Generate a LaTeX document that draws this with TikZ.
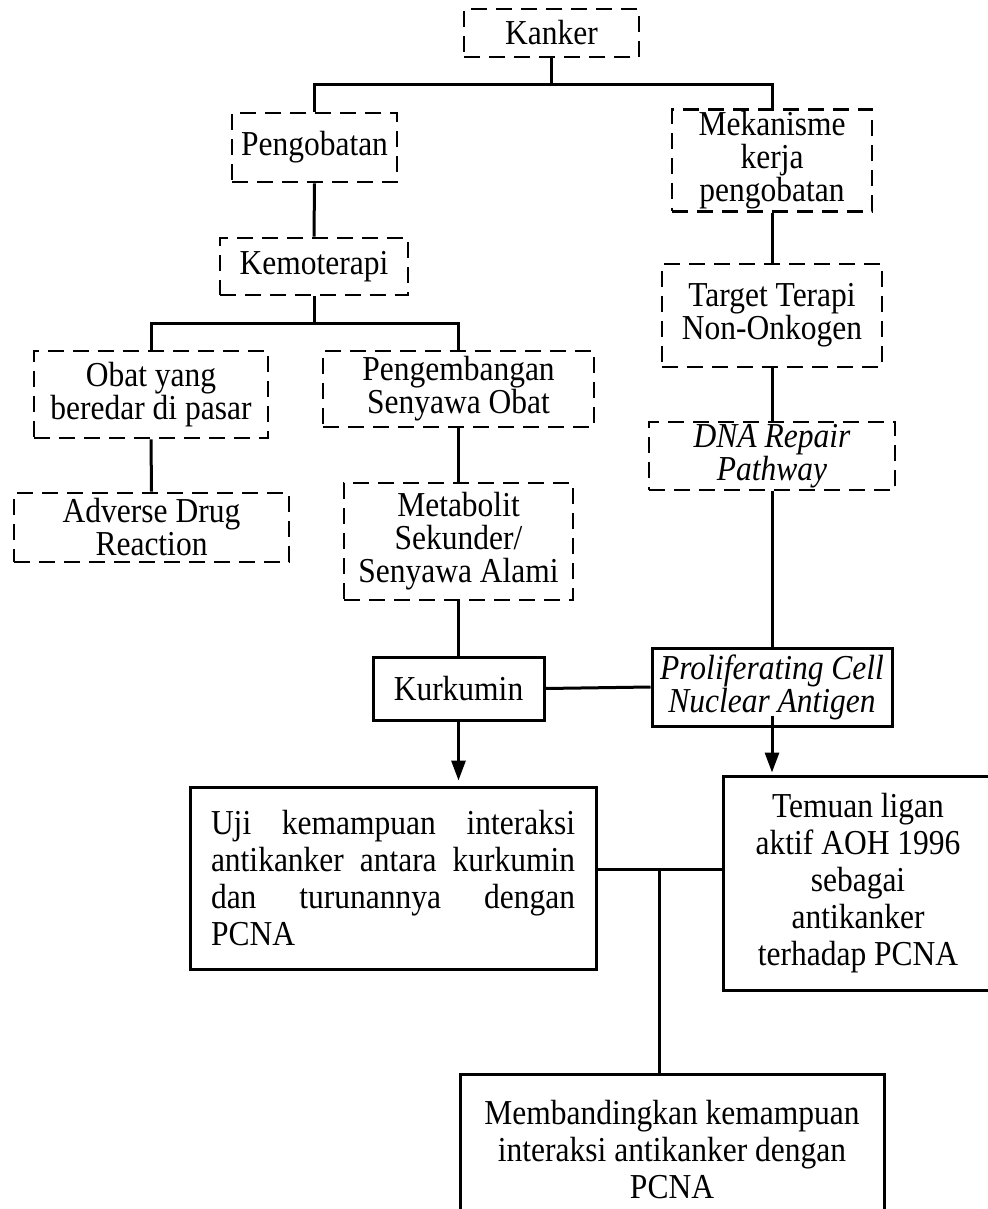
\documentclass[tikz,border=0pt]{standalone}
\usepackage{fontspec}
\setmainfont{Liberation Serif}[FakeStretch=0.9]
\usetikzlibrary{arrows.meta}

\tikzset{
  dashbox/.style={draw, line width=1.4pt, dash pattern=on 8pt off 4.5pt,
    align=center, inner sep=1pt, font=\fontsize{17.5}{16.5}\selectfont},
  solidbox/.style={draw, line width=1.5pt, align=center, inner sep=1pt,
    font=\fontsize{17.5}{16.5}\selectfont},
  bigbox/.style={solidbox, font=\fontsize{17.5}{18.5}\selectfont},
  link/.style={line width=1.5pt},
  arrowlink/.style={line width=1.5pt, -{Triangle[length=10pt,width=7pt]}},
}

\begin{document}
\begin{tikzpicture}[x=0.5pt,y=-0.5pt]
    \path[use as bounding box] (0,0) rectangle (988,1209);
    \clip (0,0) rectangle (988,1209);
    % dashed tree
    \node[dashbox, minimum width=87.5pt, minimum height=24pt] (kanker) at (551.5,33) {Kanker};
    \node[dashbox, minimum width=82.5pt, minimum height=34.5pt] (pengobatan) at (314.5,147.5) {Pengobatan};
    \node[dashbox, minimum width=100pt, minimum height=47.5pt] (mekanisme) at (772,160.5) {Mekanisme\\kerja\\pengobatan};
    \node[dashbox, minimum width=94pt, minimum height=28.5pt] (kemoterapi) at (314,266.5) {Kemoterapi};
    \node[dashbox, minimum width=117pt, minimum height=43.5pt] (obat) at (151,394.5) {Obat yang\\beredar di pasar};
    \node[dashbox, minimum width=135.5pt, minimum height=38pt] (pengembangan) at (458.5,389) {Pengembangan\\Senyawa Obat};
    \node[dashbox, minimum width=137.5pt, minimum height=34.5pt] (adverse) at (151.5,527.5) {Adverse Drug\\Reaction};
    \node[dashbox, minimum width=114.5pt, minimum height=58.5pt] (metabolit) at (458.5,541.5) {Metabolit\\Sekunder/\\Senyawa Alami};
    \node[dashbox, minimum width=110pt, minimum height=51.5pt] (target) at (772,315.5) {Target Terapi\\Non-Onkogen};
    \node[dashbox, minimum width=123pt, minimum height=34pt] (dna) at (772,456) {\itshape DNA Repair\\\itshape Pathway};
    % solid boxes
    \node[solidbox, minimum width=120pt, minimum height=39pt] (pcna) at (772,687) {\itshape Proliferating Cell\\\itshape Nuclear Antigen};
    \node[solidbox, minimum width=85.5pt, minimum height=31.5pt] (kurkumin) at (458.5,688.5) {Kurkumin};
    \node[bigbox, align=left, text width=182pt, inner xsep=10.5pt, minimum height=91pt] (uji) at (393,878)
        {Uji\hfill kemampuan\hfill interaksi\\antikanker\hfill antara\hfill kurkumin\\dan\hfill turunannya\hfill dengan\\PCNA};
    \node[bigbox, minimum width=135pt, minimum height=107pt] (temuan) at (858,883)
        {Temuan ligan\\aktif AOH 1996\\sebagai\\antikanker\\terhadap PCNA};
    \node[bigbox, minimum width=212pt, minimum height=76pt] (banding) at (672,1150)
        {Membandingkan kemampuan\\interaksi antikanker dengan\\PCNA};

    % connectors
    \coordinate (j1) at (551.5,85);
    \coordinate (j2) at (314,323);
    \coordinate (j3) at (659,869);
    \draw[link] (kanker.south) -- (j1);
    \draw[link] (pengobatan.north) |- (j1) -| (mekanisme.north);
    \draw[link] (pengobatan.south) -- (kemoterapi.north);
    \draw[link] (kemoterapi.south) -- (j2);
    \draw[link] (obat.north) |- (j2) -| (pengembangan.north);
    \draw[link] (obat.south) -- (adverse.north);
    \draw[link] (pengembangan.south) -- (metabolit.north);
    \draw[link] (metabolit.south) -- (kurkumin.north);
    \draw[link] (mekanisme.south) -- (target.north);
    \draw[link] (target.south) -- (dna.north);
    \draw[link] (dna.south) -- (pcna.north);
    \draw[link] (kurkumin.east) -- (pcna.west);
    \draw[arrowlink, shorten >=2.5pt] (kurkumin.south) -- (kurkumin.south |- uji.north);
    \draw[arrowlink, shorten >=1pt] ([yshift=6pt]pcna.south) -- (pcna.south |- temuan.north);
    \draw[link] (uji.east |- j3) -- (temuan.west |- j3);
    \draw[link] (j3) -- (j3 |- banding.north);
\end{tikzpicture}
\end{document}
